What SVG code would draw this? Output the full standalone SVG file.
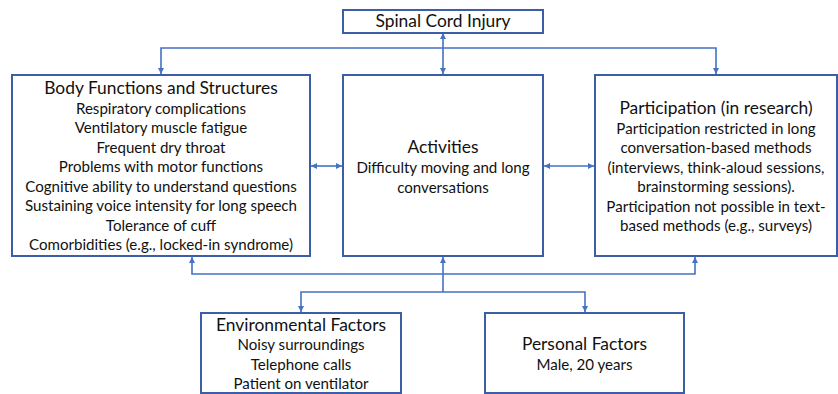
<svg xmlns="http://www.w3.org/2000/svg" width="838" height="394" viewBox="0 0 838 394">
<defs>
<style>
.box{fill:#fff;stroke:#3B5EA6;stroke-width:2}
.con{fill:none;stroke:#4472C4;stroke-width:1.6}
text{font-family:Lato,"Liberation Sans",sans-serif;fill:#111;text-anchor:middle}
.t{font-size:17.4px}
.b{font-size:15.1px}
</style>
<marker id="ah" viewBox="0 0 6 6" refX="6" refY="3" markerWidth="6" markerHeight="6" markerUnits="userSpaceOnUse" orient="auto-start-reverse">
<path d="M0,0 L6,3 L0,6 z" fill="#4472C4"/>
</marker>
</defs>
<rect width="838" height="394" fill="#fff"/>
<g id="connectors">
<path class="con" d="M443,33 V74" marker-start="url(#ah)" marker-end="url(#ah)"/>
<path class="con" d="M443,48 H161 V74" marker-end="url(#ah)"/>
<path class="con" d="M443,48 H716 V74" marker-end="url(#ah)"/>
<path class="con" d="M311,166 H342" marker-start="url(#ah)" marker-end="url(#ah)"/>
<path class="con" d="M544,166 H594" marker-start="url(#ah)" marker-end="url(#ah)"/>
<path class="con" d="M192,257 V274 H695 V257" marker-start="url(#ah)" marker-end="url(#ah)"/>
<path class="con" d="M443,292 V257" marker-end="url(#ah)"/>
<path class="con" d="M443,292 H301 V312" marker-end="url(#ah)"/>
<path class="con" d="M443,292 H585 V312" marker-end="url(#ah)"/>
</g>
<g id="spinal-cord-injury">
<rect class="box" x="343" y="10" width="200" height="23"/>
<text class="t" x="443" y="27">Spinal Cord Injury</text>
</g>
<g id="body-functions">
<rect class="box" x="12" y="75" width="298" height="181"/>
<text class="t" x="161" y="93.5">Body Functions and Structures</text>
<text class="b" x="161" y="113.5">Respiratory complications</text>
<text class="b" x="161" y="133">Ventilatory muscle fatigue</text>
<text class="b" x="161" y="152.5">Frequent dry throat</text>
<text class="b" x="161" y="172">Problems with motor functions</text>
<text class="b" x="161" y="191.5">Cognitive ability to understand questions</text>
<text class="b" x="161" y="211">Sustaining voice intensity for long speech</text>
<text class="b" x="161" y="230.5">Tolerance of cuff</text>
<text class="b" x="161" y="250">Comorbidities (e.g., locked-in syndrome)</text>
</g>
<g id="activities">
<rect class="box" x="343" y="75" width="200" height="181"/>
<text class="t" x="443" y="152.5">Activities</text>
<text class="b" x="443" y="173">Difficulty moving and long</text>
<text class="b" x="443" y="192.5">conversations</text>
</g>
<g id="participation">
<rect class="box" x="595" y="75" width="242" height="181"/>
<text class="t" x="716" y="113.5">Participation (in research)</text>
<text class="b" x="716" y="133.5">Participation restricted in long</text>
<text class="b" x="716" y="153">conversation-based methods</text>
<text class="b" x="716" y="172.5">(interviews, think-aloud sessions,</text>
<text class="b" x="716" y="192">brainstorming sessions).</text>
<text class="b" x="716" y="211.5">Participation not possible in text-</text>
<text class="b" x="716" y="231">based methods (e.g., surveys)</text>
</g>
<g id="environmental-factors">
<rect class="box" x="201" y="313" width="200" height="80"/>
<text class="t" x="301" y="330.5">Environmental Factors</text>
<text class="b" x="301" y="350">Noisy surroundings</text>
<text class="b" x="301" y="369.5">Telephone calls</text>
<text class="b" x="301" y="388.5">Patient on ventilator</text>
</g>
<g id="personal-factors">
<rect class="box" x="485" y="313" width="199" height="80"/>
<text class="t" x="584.5" y="350">Personal Factors</text>
<text class="b" x="584.5" y="369.5">Male, 20 years</text>
</g>
</svg>
